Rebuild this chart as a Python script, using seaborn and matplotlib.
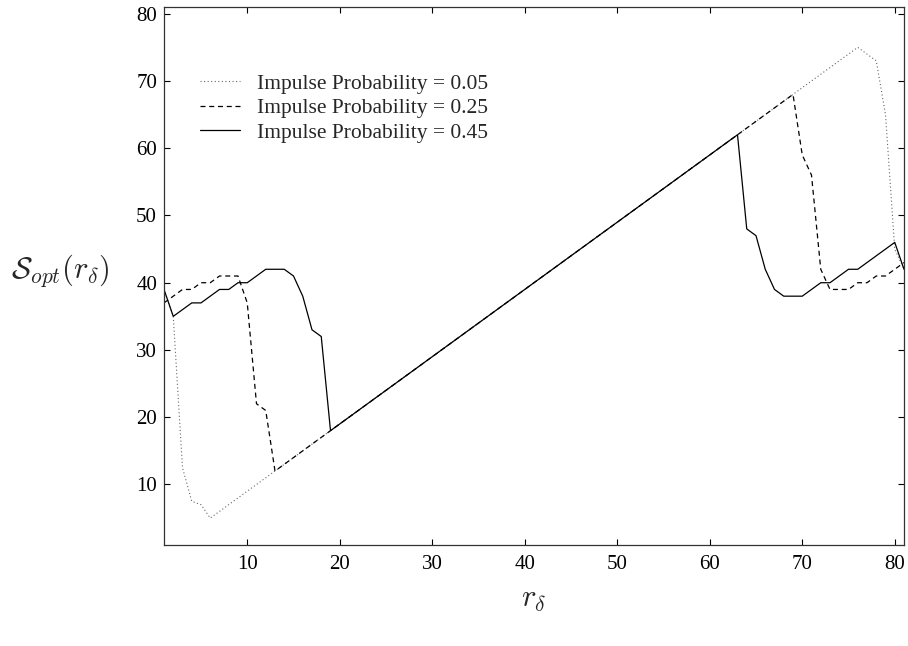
import matplotlib
matplotlib.use("Agg")
import matplotlib.pyplot as plt
import seaborn as sns
import pandas as pd

r_delta = list(range(1, 82))

p005 = [39, 35, 12.5, 7.5, 7, 5, 6, 7, 8, 9,
        10, 11, 12, 13, 14, 15, 16, 17, 18, 19,
        20, 21, 22, 23, 24, 25, 26, 27, 28, 29,
        30, 31, 32, 33, 34, 35, 36, 37, 38, 39,
        40, 41, 42, 43, 44, 45, 46, 47, 48, 49,
        50, 51, 52, 53, 54, 55, 56, 57, 58, 59,
        60, 61, 62, 63, 64, 65, 66, 67, 68, 69,
        70, 71, 72, 73, 74, 75, 74, 73, 65, 45,
        42]

p025 = [37, 38, 39, 39, 40, 40, 41, 41, 41, 37,
        22, 21, 12, 13, 14, 15, 16, 17, 18, 19,
        20, 21, 22, 23, 24, 25, 26, 27, 28, 29,
        30, 31, 32, 33, 34, 35, 36, 37, 38, 39,
        40, 41, 42, 43, 44, 45, 46, 47, 48, 49,
        50, 51, 52, 53, 54, 55, 56, 57, 58, 59,
        60, 61, 62, 63, 64, 65, 66, 67, 68, 59,
        56, 42, 39, 39, 39, 40, 40, 41, 41, 42,
        43]

p045 = [39, 35, 36, 37, 37, 38, 39, 39, 40, 40,
        41, 42, 42, 42, 41, 38, 33, 32, 18, 19,
        20, 21, 22, 23, 24, 25, 26, 27, 28, 29,
        30, 31, 32, 33, 34, 35, 36, 37, 38, 39,
        40, 41, 42, 43, 44, 45, 46, 47, 48, 49,
        50, 51, 52, 53, 54, 55, 56, 57, 58, 59,
        60, 61, 62, 48, 47, 42, 39, 38, 38, 38,
        39, 40, 40, 41, 42, 42, 43, 44, 45, 46,
        42]

labels = ["Impulse Probability = 0.05",
          "Impulse Probability = 0.25",
          "Impulse Probability = 0.45"]
x_ticks = [10, 20, 30, 40, 50, 60, 70, 80]
y_ticks = [10, 20, 30, 40, 50, 60, 70, 80]

sns.set_style("ticks")
plt.rcParams["font.family"] = ["Liberation Serif", "DejaVu Serif"]
plt.rcParams["mathtext.fontset"] = "cm"

fig = plt.figure(figsize=(9.08, 6.46), dpi=100)
ax = fig.add_axes([164 / 908, 1 - 545 / 646, 740 / 908, 538 / 646])

styles = [(0, (1, 2.2)), (0, (4, 3)), "-"]
colors = ["#666666", "black", "black"]
widths = [0.8, 0.9, 0.9]
for vals, lab, ls, c, w in zip([p005, p025, p045], labels, styles, colors, widths):
    df = pd.DataFrame({"r": r_delta, "s": vals})
    sns.lineplot(data=df, x="r", y="s", ax=ax, color=c, linestyle=ls,
                 linewidth=w, label=lab)

ax.set_xlim(1, 81)
ax.set_ylim(1, 81)
ax.set_xticks(x_ticks)
ax.set_yticks(y_ticks)
ax.tick_params(direction="in", top=True, right=True, length=4, width=0.8,
               labelsize=15, colors="black")
ax.tick_params(axis="x", pad=7)
ax.tick_params(axis="y", pad=5)
for sp in ax.spines.values():
    sp.set_visible(True)
    sp.set_linewidth(0.9)
    sp.set_color("#333333")

ax.set_xlabel(r"$r_\delta$", fontsize=22, va="center")
ax.xaxis.set_label_coords(0.5, -0.102)
ax.set_ylabel(r"$\mathcal{S}_{opt}(r_\delta)$", fontsize=22, rotation=0,
              ha="center", va="center")
ax.yaxis.set_label_coords(-0.1405, 0.511)

leg = ax.legend(loc="upper left", bbox_to_anchor=(0.037, 0.892), frameon=False,
                fontsize=15.5, handlelength=1.85, handletextpad=0.8,
                labelspacing=0.2, borderaxespad=0)

fig.savefig("out.png", dpi=100)
